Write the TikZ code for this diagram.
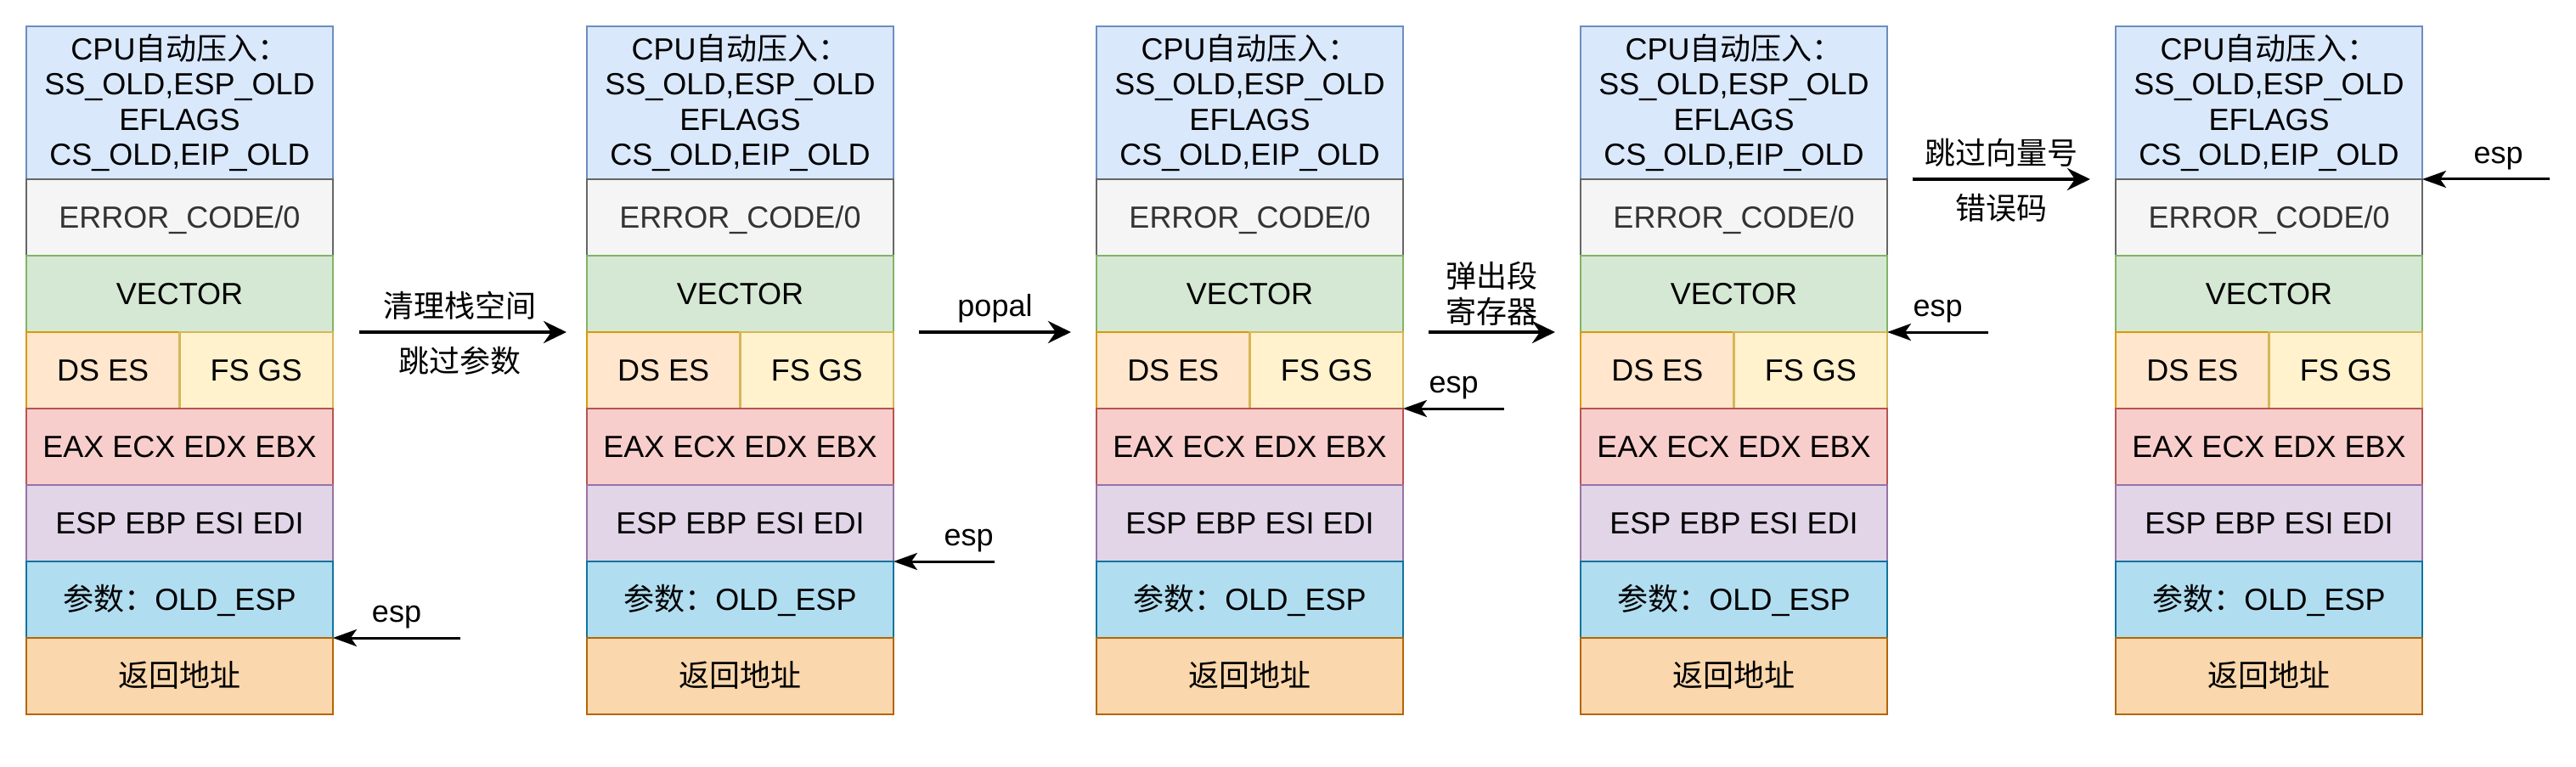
\documentclass[tikz,border=0pt]{standalone}
\usepackage{fontspec}
\setmainfont{Liberation Sans}
\newfontfamily\cjk{Noto Sans CJK SC}
\usepackage{tikz}
\usetikzlibrary{positioning, arrows.meta}

\definecolor{cpufill}{HTML}{DAE8FC}
\definecolor{cpuline}{HTML}{6C8EBF}
\definecolor{errfill}{HTML}{F5F5F5}
\definecolor{errline}{HTML}{666666}
\definecolor{errtext}{HTML}{333333}
\definecolor{vecfill}{HTML}{D5E8D4}
\definecolor{vecline}{HTML}{82B366}
\definecolor{dsfill}{HTML}{FFE6CC}
\definecolor{dsline}{HTML}{D79B00}
\definecolor{fsfill}{HTML}{FFF2CC}
\definecolor{fsline}{HTML}{D6B656}
\definecolor{genfill}{HTML}{F8CECC}
\definecolor{genline}{HTML}{B85450}
\definecolor{ptrfill}{HTML}{E1D5E7}
\definecolor{ptrline}{HTML}{9673A6}
\definecolor{argfill}{HTML}{B1DDF0}
\definecolor{argline}{HTML}{10739E}
\definecolor{retfill}{HTML}{FAD7AC}
\definecolor{retline}{HTML}{B46504}

\begin{document}
\begin{tikzpicture}[x=1pt, y=-1pt]
    % Setup the styles for the stack slots and the arrows
        \tikzset{slot/.style={draw, line width=1.1pt, inner sep=0pt, outer sep=0pt,
                              font=\fontsize{18}{20.8}\selectfont},
                 cell/.style={slot, minimum width=180.5pt, minimum height=45pt,
                              text height=12.9pt, text depth=0pt},
                 half cell/.style={cell, minimum width=90.25pt},
                 cpu cell/.style={slot, minimum width=180.5pt, minimum height=90pt, align=center},
                 tag/.style={inner sep=0pt, font=\fontsize{18}{20.8}\selectfont},
                 cjk tag/.style={tag, font=\fontsize{18}{20.8}\selectfont\cjk,
                                 text height=15pt, text depth=1.5pt},
                 jump/.style={line width=2pt, >={Stealth[length=13.5pt, width=13pt, inset=4.5pt]}},
                 pointer/.style={line width=1.5pt, >={Stealth[length=14pt, width=10pt, inset=3.5pt]}}}
        \useasboundingbox (0,0) rectangle (1516.5,451.5);
        % Draw the five stacks
        \foreach \n/\x in {1/15.5, 2/345.5, 3/645.5, 4/930.5, 5/1245.5} {
            \node[cpu cell, fill=cpufill, draw=cpuline, anchor=north west] at (\x,15.5) (cpu\n)
                {CPU{\cjk 自动压入：}\\SS\_OLD,ESP\_OLD\\EFLAGS\\CS\_OLD,EIP\_OLD};
            \node[cell, fill=errfill, draw=errline, text=errtext, below=0pt of cpu\n] (err\n) {ERROR\_CODE/0};
            \node[cell, fill=vecfill, draw=vecline, below=0pt of err\n] (vec\n) {VECTOR};
            \node[half cell, fill=dsfill, draw=dsline, below right=0pt of vec\n.south west] (dses\n) {DS ES};
            \node[half cell, fill=fsfill, draw=fsline, right=0pt of dses\n] (fsgs\n) {FS GS};
            \node[cell, fill=genfill, draw=genline, below right=0pt of dses\n.south west] (gen\n) {EAX ECX EDX EBX};
            \node[cell, fill=ptrfill, draw=ptrline, below=0pt of gen\n] (ptr\n) {ESP EBP ESI EDI};
            \node[cell, fill=argfill, draw=argline, below=0pt of ptr\n] (arg\n) {{\cjk 参数：}OLD\_ESP};
            \node[cell, fill=retfill, draw=retline, below=0pt of arg\n] (ret\n) {{\cjk 返回地址}};
        }
        % Where esp points in each stack
        \coordinate[right=75pt of ret1.north east] (esp1);
        \coordinate[right=59.5pt of arg2.north east] (esp2);
        \coordinate[right=59.5pt of gen3.north east] (esp3);
        \coordinate[right=59.5pt of fsgs4.north east] (esp4);
        \coordinate[right=75pt of err5.north east] (esp5);
        \draw[pointer]
            (esp1) edge[->] node[tag, above=4.7pt] (esptag1) {esp} (ret1.north east)
            (esp2) edge[->] node[tag, pos=0.256, above=4.7pt] (esptag2) {esp} (arg2.north east)
            (esp3) edge[->] node[tag, above=4.7pt] (esptag3) {esp} (gen3.north east)
            (esp4) edge[->] node[tag, above=4.7pt] (esptag4) {esp} (fsgs4.north east)
            (esp5) edge[->] node[tag, pos=0.403, above=4.7pt] (esptag5) {esp} (err5.north east);
        % Connect the stacks with the steps
        \draw[jump]
            (fsgs1.north east) edge[->, shorten <=15.25pt, shorten >=12pt]
                node[cjk tag, above=6.3pt] (clean) {清理栈空间}
                node[cjk tag, below=7.8pt] (skiparg) {跳过参数} (dses2.north west)
            (fsgs2.north east) edge[->, shorten <=14.75pt, shorten >=15pt]
                node[tag, above=4.7pt] (popal) {popal} (dses3.north west)
            (fsgs3.north east) edge[->, shorten <=15pt, shorten >=15pt]
                node[tag, font=\fontsize{18}{20.8}\selectfont\cjk, align=center, above=3pt] (popseg) {弹出段\\寄存器} (dses4.north west)
            (err4.north east) edge[->, shorten <=14.75pt, shorten >=15pt]
                node[cjk tag, above=6.3pt] (skipvec) {跳过向量号}
                node[cjk tag, below=7.8pt] (skiperr) {错误码} (err5.north west);
\end{tikzpicture}
\end{document}
